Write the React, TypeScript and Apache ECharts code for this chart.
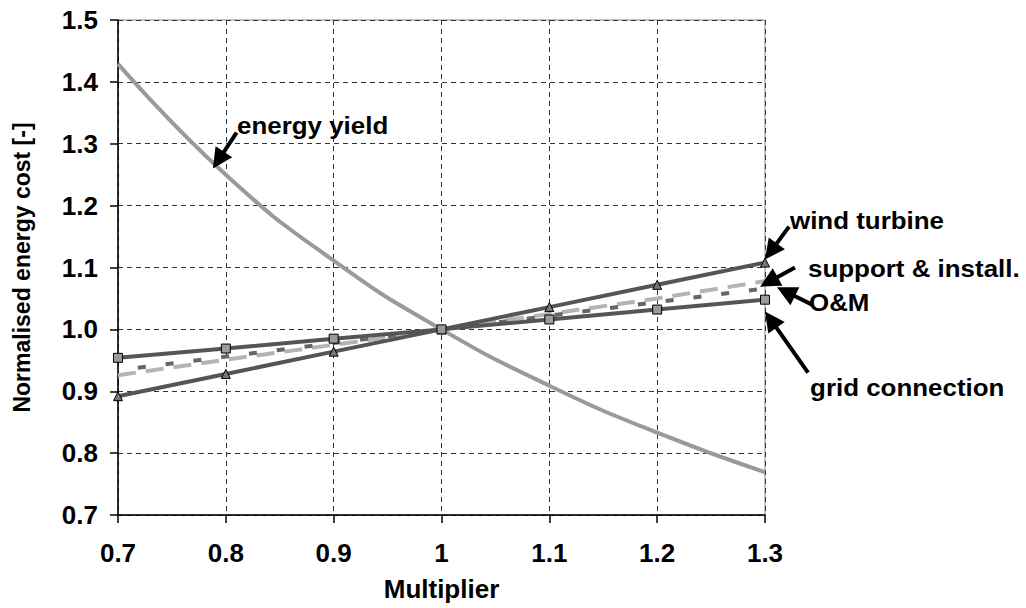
import React, { useEffect, useRef } from "react";
import * as echarts from "echarts";

const multipliers = [0.7, 0.8, 0.9, 1.0, 1.1, 1.2, 1.3];
const energyYield = [1.429, 1.25, 1.111, 1.0, 0.909, 0.833, 0.769];
const windTurbine = [0.892, 0.928, 0.964, 1.0, 1.036, 1.072, 1.108];
const supportInstall = [0.926, 0.951, 0.975, 1.0, 1.025, 1.05, 1.078];
const oAndM = [0.934, 0.956, 0.978, 1.0, 1.022, 1.044, 1.066];
const gridConnection = [0.954, 0.969, 0.985, 1.0, 1.016, 1.032, 1.048];

const annotationTexts = ["energy yield", "wind turbine", "support & install.", "O&M", "grid connection"];
const annotationLabelAt = [
  [0.8104, 1.329],
  [1.3232, 1.176],
  [1.3399, 1.098],
  [1.3408, 1.044],
  [1.3418, 0.906],
];
const annotationTail = [
  [0.81, 1.318],
  [1.3223, 1.166],
  [1.3278, 1.1],
  [1.3436, 1.04],
  [1.3399, 0.93],
];
const annotationTip = [
  [0.788, 1.26],
  [1.3, 1.113],
  [1.2954, 1.069],
  [1.3111, 1.068],
  [1.3, 1.029],
];

const FONT = '"Liberation Sans", Arial, sans-serif';

const pairs = (vals: number[]) => multipliers.map((m, i) => [m, vals[i]]);

export default function App() {
  const ref = useRef<HTMLDivElement>(null);
  useEffect(() => {
    if (!ref.current) return;
    const chart = echarts.init(ref.current, null, { renderer: "svg" });
    const labelText = { color: "#000", fontFamily: FONT, fontWeight: "bold", fontSize: 26 };
    chart.setOption({
      animation: false,
      backgroundColor: "#fff",
      grid: {
        left: 118,
        top: 20,
        right: 261,
        bottom: 93,
        show: true,
        borderColor: "#888",
        borderWidth: 1,
        containLabel: false,
      },
      xAxis: {
        type: "value",
        min: 0.7,
        max: 1.3,
        interval: 0.1,
        name: "Multiplier",
        nameLocation: "middle",
        nameGap: 61,
        nameTextStyle: { ...labelText, fontSize: 26 },
        axisLine: { show: true, onZero: false, lineStyle: { color: "#000", width: 1.5 } },
        axisTick: { show: true, length: 8, lineStyle: { color: "#000", width: 1.5 } },
        axisLabel: {
          ...labelText,
          margin: 25,
          formatter: (v: number) => String(Math.round(v * 10) / 10),
        },
        splitLine: { show: true, lineStyle: { color: "#333", width: 1, type: [5, 4] } },
      },
      yAxis: {
        type: "value",
        min: 0.7,
        max: 1.5,
        interval: 0.1,
        name: "Normalised energy cost [-]",
        nameLocation: "middle",
        nameGap: 85,
        nameTextStyle: { ...labelText, fontSize: 23 },
        axisLine: { show: true, onZero: false, lineStyle: { color: "#000", width: 1.5 } },
        axisTick: { show: true, length: 8, lineStyle: { color: "#000", width: 1.5 } },
        axisLabel: {
          ...labelText,
          margin: 20,
          formatter: (v: number) => v.toFixed(1),
        },
        splitLine: { show: true, lineStyle: { color: "#333", width: 1, type: [5, 4] } },
      },
      series: [
        {
          name: "energy yield",
          type: "line",
          data: pairs(energyYield),
          smooth: true,
          symbol: "none",
          lineStyle: { color: "#9a9a9a", width: 4 },
          z: 2,
        },
        {
          name: "support & install.",
          type: "line",
          data: pairs(supportInstall),
          symbol: "none",
          lineStyle: { color: "#b4b4b4", width: 4, type: [18, 10] },
          z: 3,
        },
        {
          name: "O&M",
          type: "line",
          data: pairs(oAndM),
          symbol: "none",
          lineStyle: { color: "#666", width: 4, type: [8, 20], dashOffset: -20 },
          z: 4,
        },
        {
          name: "wind turbine",
          type: "line",
          data: pairs(windTurbine),
          symbol: "triangle",
          symbolSize: 9,
          itemStyle: { color: "#777", borderColor: "#000", borderWidth: 1 },
          lineStyle: { color: "#555", width: 4 },
          z: 5,
        },
        {
          name: "grid connection",
          type: "line",
          data: pairs(gridConnection),
          symbol: "rect",
          symbolSize: 9,
          itemStyle: { color: "#9a9a9a", borderColor: "#000", borderWidth: 1 },
          lineStyle: { color: "#555", width: 4 },
          z: 6,
        },
      ],
    });

    const px = (p: number[]) => chart.convertToPixel({ gridIndex: 0 }, p) as number[];
    const HL = 20;
    const HW = 10;
    const graphics: any[] = [];
    annotationTexts.forEach((txt, i) => {
      const t = px(annotationTail[i]);
      const h = px(annotationTip[i]);
      const dx = h[0] - t[0];
      const dy = h[1] - t[1];
      const len = Math.hypot(dx, dy) || 1;
      const ux = dx / len;
      const uy = dy / len;
      const bx = h[0] - ux * HL;
      const by = h[1] - uy * HL;
      graphics.push({
        type: "line",
        shape: { x1: t[0], y1: t[1], x2: bx + ux * 2, y2: by + uy * 2 },
        style: { stroke: "#000", lineWidth: 4 },
        z: 100,
      });
      graphics.push({
        type: "polygon",
        shape: {
          points: [
            [h[0], h[1]],
            [bx - uy * HW, by + ux * HW],
            [bx + uy * HW, by - ux * HW],
          ],
        },
        style: { fill: "#000" },
        z: 100,
      });
      const lp = px(annotationLabelAt[i]);
      graphics.push({
        type: "text",
        x: lp[0],
        y: lp[1],
        scaleX: 1.08,
        style: {
          text: txt,
          fill: "#000",
          font: `bold 24px ${FONT}`,
          align: "left",
          verticalAlign: "middle",
        },
        z: 100,
      });
    });
    chart.setOption({ graphic: graphics });

    return () => chart.dispose();
  }, []);
  return (
    <div
      ref={ref}
      style={{ position: "fixed", left: 0, top: 0, width: 1026, height: 608, background: "#fff" }}
    />
  );
}
